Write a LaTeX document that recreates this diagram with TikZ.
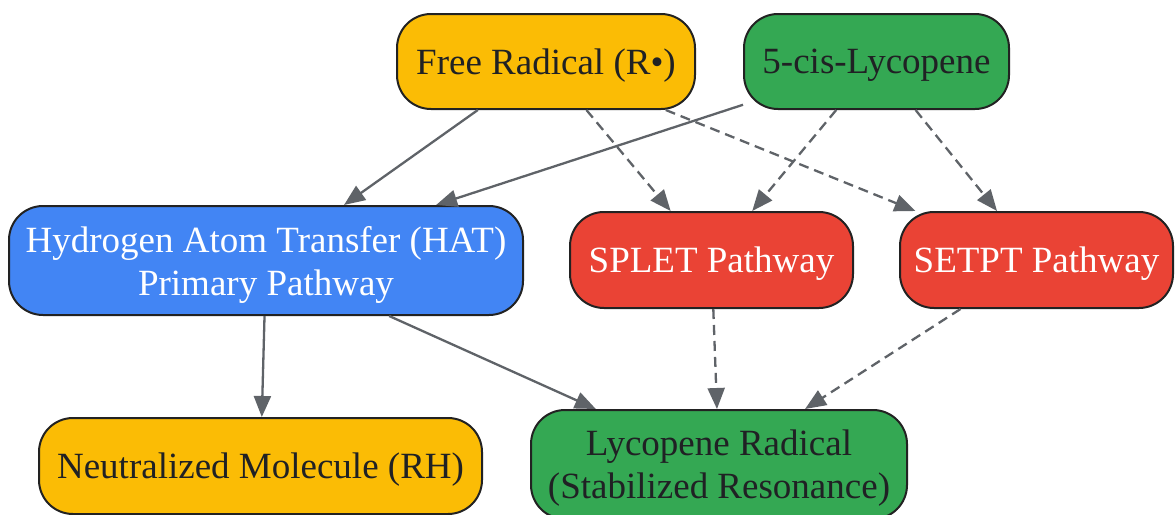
\documentclass[tikz,border=0pt]{standalone}
\usepackage{fontspec}
\setmainfont{Liberation Serif}
\usetikzlibrary{arrows.meta}
\definecolor{gyellow}{HTML}{FBBC05}
\definecolor{ggreen}{HTML}{34A853}
\definecolor{gblue}{HTML}{4285F4}
\definecolor{gred}{HTML}{EA4335}
\definecolor{edgegray}{HTML}{5F6368}
\definecolor{darktext}{HTML}{202124}
\definecolor{borderc}{HTML}{222222}
\tikzset{
  box/.style={draw=borderc, line width=2pt, rounded corners=34pt, align=center,
    font=\fontsize{37}{43}\selectfont, inner sep=0pt, text depth=0pt},
  darkbox/.style={box, text=darktext},
  lightbox/.style={box, text=white},
  link/.style={draw=edgegray, line width=2.3pt, -{Triangle[length=21pt,width=17pt]}},
  dlink/.style={link, dash pattern=on 10pt off 6pt},
}
\begin{document}
\begin{tikzpicture}[x=1pt,y=1pt]
\useasboundingbox (0,0) rectangle (1175,-514);
\node[darkbox, fill=gyellow, minimum width=298pt, minimum height=95pt] (fr) at (546,-61.5) {Free Radical (R•)};
\node[darkbox, fill=ggreen, minimum width=265pt, minimum height=95pt] (ly) at (876.5,-61.5) {5-cis-Lycopene};
\node[lightbox, fill=gblue, minimum width=514pt, minimum height=109pt] (hat) at (266,-260.5) {Hydrogen Atom Transfer (HAT)\\Primary Pathway};
\node[lightbox, fill=gred, minimum width=283pt, minimum height=96pt] (splet) at (711.5,-260) {SPLET Pathway};
\node[lightbox, fill=gred, minimum width=273pt, minimum height=96pt] (setpt) at (1036.5,-260) {SETPT Pathway};
\node[darkbox, fill=gyellow, minimum width=443pt, minimum height=96pt] (nm) at (260.5,-466) {Neutralized Molecule (RH)};
\node[darkbox, fill=ggreen, minimum width=376pt, minimum height=109pt] (lr) at (719,-464.5) {Lycopene Radical\\(Stabilized Resonance)};
\draw[link] (fr) -- (hat);
\draw[link] (ly) -- (hat);
\draw[dlink] (fr) -- (splet);
\draw[dlink] (fr) -- (setpt);
\draw[dlink] (ly) -- (splet);
\draw[dlink] (ly) -- (setpt);
\draw[link] (hat) -- (nm);
\draw[link] (hat) -- (lr);
\draw[dlink] (splet) -- (lr);
\draw[dlink] (setpt) -- (lr);
\end{tikzpicture}
\end{document}
